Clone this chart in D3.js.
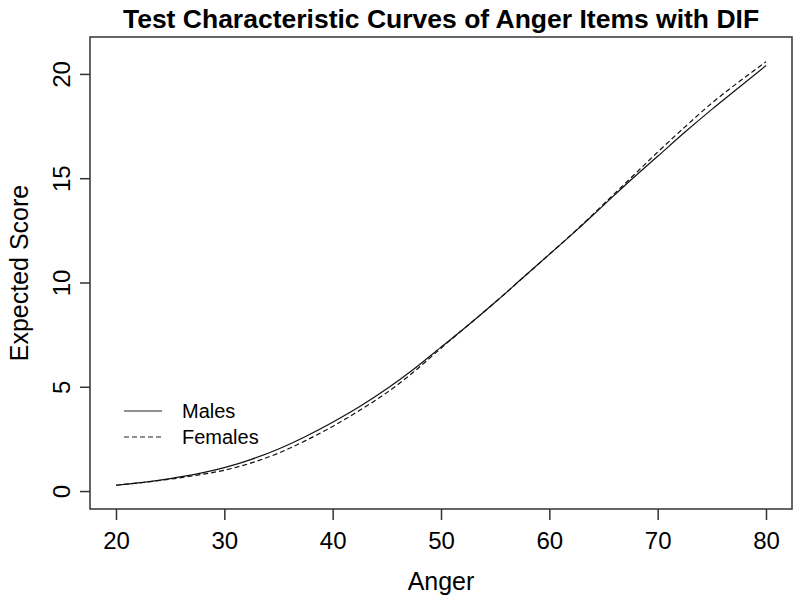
<!DOCTYPE html>
<meta charset="utf-8">
<style>
  body { margin: 0; background: #fff; }
  svg { font-family: "Liberation Sans", Arial, sans-serif; }
  .axis path.domain { display: none; }
  .axis line { stroke: #333; stroke-width: 1.5; }
  .axis text { font-size: 24px; fill: #000; }
</style>
<svg width="800" height="603"></svg>
<script src="https://d3js.org/d3.v7.min.js"></script>
<script>

// anger levels (x) and expected scores for each group
var anger = [20, 22.5, 25, 27.5, 30, 32.5, 35, 37.5, 40, 42.5, 45, 47.5, 50,
             52.5, 55, 57.5, 60, 62.5, 65, 67.5, 70, 72.5, 75, 77.5, 80];
var males = [0.28, 0.42, 0.6, 0.82, 1.12, 1.52, 2.02, 2.62, 3.3, 4.05, 4.9, 5.85, 6.9,
             7.95, 9.05, 10.2, 11.35, 12.5, 13.7, 14.9, 16.05, 17.2, 18.3, 19.35, 20.4];
var females = [0.28, 0.41, 0.57, 0.76, 1.0, 1.35, 1.82, 2.42, 3.1, 3.87, 4.72, 5.72, 6.85,
               7.95, 9.05, 10.2, 11.35, 12.52, 13.75, 15.0, 16.25, 17.45, 18.6, 19.62, 20.58];
var xTicks = [20, 30, 40, 50, 60, 70, 80];
var yTicks = [0, 5, 10, 15, 20];
var groups = ["Males", "Females"];

var svg = d3.select("svg"),
    box = {left: 90, right: 792, top: 37, bottom: 509};

var x = d3.scaleLinear().domain([17.6, 82.4]).range([box.left, box.right]),
    y = d3.scaleLinear().domain([-0.86, 21.77]).range([box.bottom, box.top]);

// title
svg.append("text")
    .attr("x", (box.left + box.right) / 2)
    .attr("y", 28)
    .attr("text-anchor", "middle")
    .style("font-size", "26.5px")
    .style("font-weight", "bold")
    .text("Test Characteristic Curves of Anger Items with DIF");

// x axis
var gx = svg.append("g")
    .attr("class", "axis")
    .attr("transform", "translate(0," + box.bottom + ")")
    .call(d3.axisBottom(x).tickValues(xTicks).tickSize(11).tickPadding(12));

// y axis, labels rotated like R's default
var gy = svg.append("g")
    .attr("class", "axis")
    .attr("transform", "translate(" + box.left + ",0)")
    .call(d3.axisLeft(y).tickValues(yTicks).tickSize(10));
gy.selectAll(".tick text")
    .attr("transform", "rotate(-90)")
    .attr("x", 0)
    .attr("y", -20)
    .attr("dy", 0)
    .attr("text-anchor", "middle");

// plot box
svg.append("rect")
    .attr("x", box.left)
    .attr("y", box.top)
    .attr("width", box.right - box.left)
    .attr("height", box.bottom - box.top)
    .attr("fill", "none")
    .attr("stroke", "#333")
    .attr("stroke-width", 1.5);

// axis titles
svg.append("text")
    .attr("x", (box.left + box.right) / 2)
    .attr("y", 590)
    .attr("text-anchor", "middle")
    .style("font-size", "25px")
    .text("Anger");

svg.append("text")
    .attr("transform", "translate(28," + (box.top + box.bottom) / 2 + ") rotate(-90)")
    .attr("text-anchor", "middle")
    .style("font-size", "25px")
    .text("Expected Score");

// curves
var line = d3.line()
    .x(function(d) { return x(d[0]); })
    .y(function(d) { return y(d[1]); })
    .curve(d3.curveMonotoneX);

svg.append("path")
    .datum(anger.map(function(a, i) { return [a, males[i]]; }))
    .attr("fill", "none")
    .attr("stroke", "#111")
    .attr("stroke-width", 1.2)
    .attr("d", line);

svg.append("path")
    .datum(anger.map(function(a, i) { return [a, females[i]]; }))
    .attr("fill", "none")
    .attr("stroke", "#111")
    .attr("stroke-width", 1.2)
    .attr("stroke-dasharray", "5,3")
    .attr("d", line);

// legend
var legend = svg.append("g");
groups.forEach(function(name, i) {
  var ly = 411 + i * 26;
  legend.append("line")
      .attr("x1", 124).attr("x2", 162)
      .attr("y1", ly).attr("y2", ly)
      .attr("stroke", "#222")
      .attr("stroke-width", 1.2)
      .attr("stroke-dasharray", i === 0 ? null : "5,3");
  legend.append("text")
      .attr("x", 182)
      .attr("y", ly)
      .attr("dy", "0.35em")
      .style("font-size", "20px")
      .text(name);
});

</script>
